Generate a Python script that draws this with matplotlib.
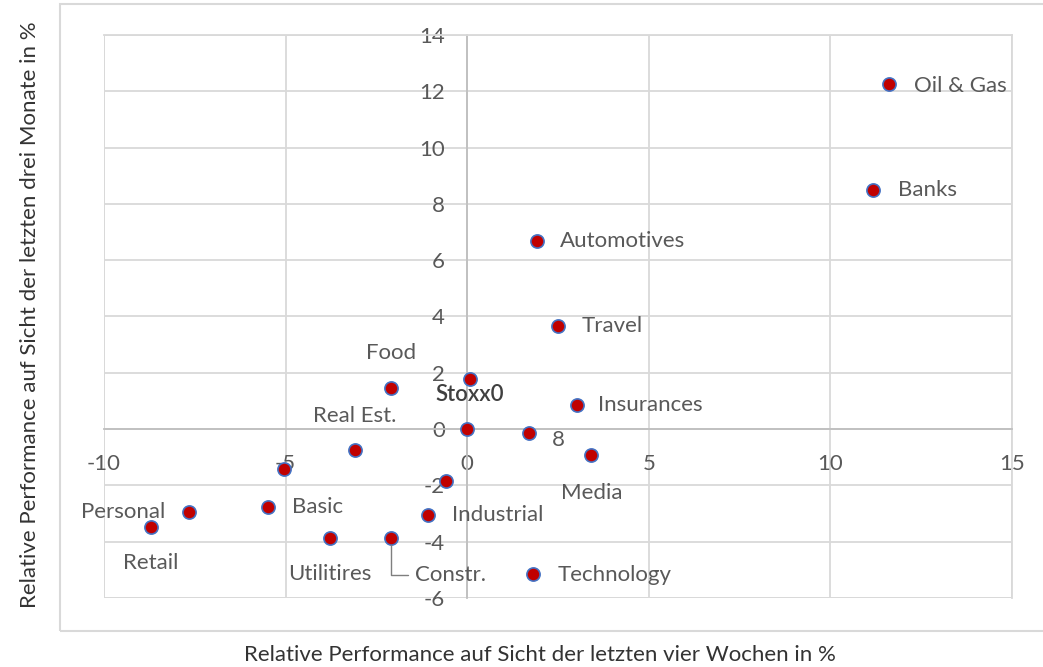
import matplotlib
matplotlib.use("Agg")
import matplotlib.pyplot as plt
from matplotlib.patches import Rectangle

plt.rcParams['font.family'] = ['Lato', 'DejaVu Sans']
plt.rcParams['axes.unicode_minus'] = False

# Data (relative performance 4 weeks, 3 months)
x_vals = [11.6, 11.18, 1.93, 2.5, -2.09, 0.08, 3.03, 0.0, 1.71, 3.42, -3.09, -5.04, -0.58,
          -1.07, -5.48, -7.66, -8.71, -3.77, -2.09, 1.82]
y_vals = [12.26, 8.49, 6.68, 3.66, 1.46, 1.78, 0.85, 0.0, -0.14, -0.92, -0.75, -1.42, -1.85,
          -3.05, -2.77, -2.95, -3.48, -3.87, -3.87, -5.15]
labels = ["Oil & Gas", "Banks", "Automotives", "Travel", "Food", "Stoxx0", "Insurances", "",
          "8", "Media", "Real Est.", "", "", "Industrial", "Basic", "Personal", "Retail",
          "Utilitires", "Constr.", "Technology"]

x_ticks = [-10, -5, 0, 5, 10, 15]
y_ticks = [-6, -4, -2, 0, 2, 4, 6, 8, 10, 12, 14]

# label offsets in pixels (dx, dy, ha)
offsets = [(25, -2, 'left'), (25, 0, 'left'), (23, 0, 'left'), (24, 0, 'left'),
           (0, 35, 'center'), (0, -16, 'center'), (21, 0, 'left'), (0, 0, 'center'),
           (29, -7, 'center'), (0, -38, 'center'), (0, 34, 'center'), (0, 0, 'center'),
           (0, 0, 'center'), (24, 0, 'left'), (24, 0, 'left'), (-24, 0, 'right'),
           (0, -36, 'center'), (0, -36, 'center'), (24, -37, 'left'), (24, -1, 'left')]

FS = 16
W, H = 1043, 667
fig = plt.figure(figsize=(W / 100, H / 100), dpi=100)
fig.patches.append(Rectangle((60 / W, 1 - 631 / H), (W + 10 - 60) / W, (631 - 4) / H,
                             transform=fig.transFigure, fill=False, edgecolor='#D9D9D9',
                             linewidth=1.5, zorder=0))

ax = fig.add_axes([104 / W, 1 - 598 / H, (1012 - 104) / W, (598 - 35) / H])
ax.set_xlim(-10, 15)
ax.set_ylim(-6, 14)
ax.set_xticks(x_ticks)
ax.set_yticks(y_ticks)
ax.grid(True, color='#D9D9D9', linewidth=1.3, zorder=0)
ax.set_axisbelow(True)

for s in ['top', 'right']:
    ax.spines[s].set_color('#D9D9D9')
    ax.spines[s].set_linewidth(1.3)
ax.spines['left'].set_position(('data', 0))
ax.spines['bottom'].set_position(('data', 0))
ax.spines['left'].set_color('#BFBFBF')
ax.spines['bottom'].set_color('#BFBFBF')
ax.spines['left'].set_linewidth(1.3)
ax.spines['bottom'].set_linewidth(1.3)
ax.axvline(-10, color='#D9D9D9', linewidth=1.3, zorder=0)
ax.axhline(-6, color='#D9D9D9', linewidth=1.3, zorder=0)

ax.tick_params(axis='both', length=0, labelsize=FS, colors='#595959')
ax.tick_params(axis='x', pad=18)
ax.tick_params(axis='y', pad=16)

ax.scatter(x_vals, y_vals, s=90, c='#C00000', edgecolors='#4472C4', linewidths=1.2, zorder=3)

for xv, yv, lab, (dx, dy, ha) in zip(x_vals, y_vals, labels, offsets):
    if not lab:
        continue
    if lab == "Constr.":
        ax.annotate(lab, (xv, yv), xytext=(dx * 0.72, dy * 0.72), textcoords='offset points',
                    ha=ha, va='center', fontsize=FS, color='#595959',
                    arrowprops=dict(arrowstyle='-', color='#7F7F7F', lw=1,
                                    connectionstyle='angle,angleA=0,angleB=90,rad=0',
                                    shrinkA=3, shrinkB=5))
    else:
        ax.annotate(lab, (xv, yv), xytext=(dx * 0.72, dy * 0.72), textcoords='offset points',
                    ha=ha, va='center', fontsize=FS,
                    color='#404040' if lab == "Stoxx0" else '#595959',
                    fontweight='semibold' if lab == "Stoxx0" else 'normal')

fig.text(540 / W, 1 - 655 / H, "Relative Performance auf Sicht der letzten vier Wochen in %",
         ha='center', va='center', fontsize=FS, color='#333333')
fig.text(30 / W, 1 - 315 / H, "Relative Performance auf Sicht der letzten drei Monate in %",
         ha='center', va='center', rotation=90, fontsize=FS, color='#333333')

fig.savefig("out.png", dpi=100)
